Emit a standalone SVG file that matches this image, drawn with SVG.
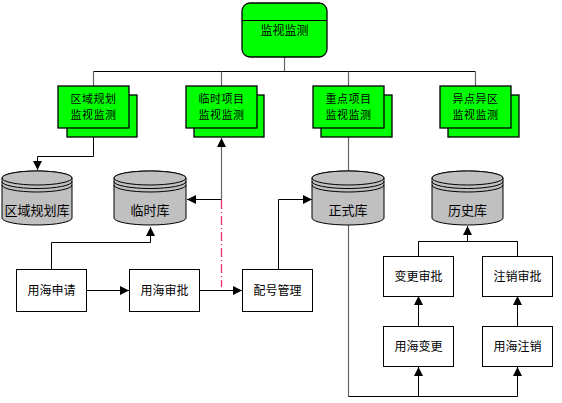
<svg xmlns="http://www.w3.org/2000/svg" width="562" height="403" viewBox="0 0 562 403">
<style>
.g{fill:#00ff00;stroke:#000;stroke-width:1.3}
.b{fill:#fff;stroke:#000;stroke-width:1}
.cy{fill:#c0c0c0;stroke:#000;stroke-width:1}
.t{font-family:"Noto Sans CJK SC",sans-serif;font-size:12px;fill:#000;text-anchor:middle}
.n{font-family:"Noto Sans CJK SC",sans-serif;font-size:11px;fill:#000;text-anchor:middle;letter-spacing:0.5px}
.ct{font-family:"Noto Sans CJK SC",sans-serif;font-size:13px;fill:#000;text-anchor:middle}
.l{fill:none;stroke:#000;stroke-width:1}
.lg{fill:none;stroke:#666;stroke-width:1.2}
</style>
<defs>
<marker id="ar" viewBox="0 0 10 10" refX="10" refY="5" markerWidth="9" markerHeight="9" markerUnits="userSpaceOnUse" orient="auto">
<path d="M0,0 L10,5 L0,10 z" fill="#000"/>
</marker>
</defs>
<rect width="562" height="403" fill="#fff"/>

<g id="connectors">
<path class="lg" d="M284.5,57 V71.5"/>
<path class="l" d="M93.5,71.5 H475.5"/>
<path class="lg" d="M93.5,71.5 V86 M221.5,71.5 V86 M348.5,71.5 V86 M475.5,71.5 V86"/>
<path class="l" d="M93.5,137 V156.5 H37.5 V170" marker-end="url(#ar)"/>
<path class="lg" d="M221.5,199.5 V138" marker-end="url(#ar)"/>
<path class="l" d="M221.5,199.5 H187" marker-end="url(#ar)"/>
<path d="M221.5,200 V287" stroke="#f0306a" stroke-width="1.3" stroke-dasharray="9,3,1,3" fill="none"/>
<path class="lg" d="M348.5,137 V171"/>
<path class="l" d="M51.5,269 V242.5 H150.5 V227" marker-end="url(#ar)"/>
<path class="l" d="M87,290.5 H129" marker-end="url(#ar)"/>
<path class="l" d="M199,290.5 H242" marker-end="url(#ar)"/>
<path class="l" d="M278.5,269 V199.5 H312" marker-end="url(#ar)"/>
<path class="lg" d="M348.5,225 V396.5"/>
<path class="l" d="M348.5,396.5 H517.5"/>
<path class="l" d="M418.5,396.5 V367" marker-end="url(#ar)"/>
<path class="l" d="M517.5,396.5 V367" marker-end="url(#ar)"/>
<path class="l" d="M418.5,326 V296" marker-end="url(#ar)"/>
<path class="l" d="M517.5,326 V296" marker-end="url(#ar)"/>
<path class="l" d="M418.5,256 V241.5 H517.5 V256"/>
<path class="l" d="M467.5,241.5 V226" marker-end="url(#ar)"/>
</g>

<g id="top">
<rect class="g" x="242" y="3" width="85" height="54" rx="8"/>
<path class="l" d="M242,20.5 H327" stroke-width="1.3"/>
<text class="t" x="284.5" y="34.5">监视监测</text>
</g>

<g id="n1">
<rect class="g" x="67" y="95" width="70" height="42"/>
<rect class="g" x="58" y="86" width="71" height="42"/>
<text class="n" x="93.5" y="103">区域规划</text>
<text class="n" x="93.5" y="119">监视监测</text>
</g>
<g id="n2">
<rect class="g" x="194" y="95" width="70" height="42"/>
<rect class="g" x="186" y="86" width="71" height="42"/>
<text class="n" x="221.5" y="103">临时项目</text>
<text class="n" x="221.5" y="119">监视监测</text>
</g>
<g id="n3">
<rect class="g" x="321" y="95" width="71" height="42"/>
<rect class="g" x="313" y="86" width="71" height="42"/>
<text class="n" x="348.5" y="103">重点项目</text>
<text class="n" x="348.5" y="119">监视监测</text>
</g>
<g id="n4">
<rect class="g" x="448" y="95" width="71" height="42"/>
<rect class="g" x="440" y="86" width="71" height="42"/>
<text class="n" x="475.5" y="103">异点异区</text>
<text class="n" x="475.5" y="119">监视监测</text>
</g>

<g id="db1">
<path class="cy" d="M2,178 V218 A35,7 0 0 0 72,218 V178 A35,7 0 0 0 2,178 z"/>
<ellipse class="cy" cx="37" cy="178" rx="35" ry="7"/>
<path class="l" d="M2,181.5 A35,7 0 0 0 72,181.5 M2,185 A35,7 0 0 0 72,185"/>
<text class="ct" x="37" y="214.5">区域规划库</text>
</g>
<g id="db2">
<path class="cy" d="M114,178 V218 A36,7 0 0 0 186,218 V178 A36,7 0 0 0 114,178 z"/>
<ellipse class="cy" cx="150" cy="178" rx="36" ry="7"/>
<path class="l" d="M114,181.5 A36,7 0 0 0 186,181.5 M114,185 A36,7 0 0 0 186,185"/>
<text class="ct" x="150" y="214.5">临时库</text>
</g>
<g id="db3">
<path class="cy" d="M312,178 V218 A36,7 0 0 0 384,218 V178 A36,7 0 0 0 312,178 z"/>
<ellipse class="cy" cx="348" cy="178" rx="36" ry="7"/>
<path class="l" d="M312,181.5 A36,7 0 0 0 384,181.5 M312,185 A36,7 0 0 0 384,185"/>
<text class="ct" x="348" y="214.5">正式库</text>
</g>
<g id="db4">
<path class="cy" d="M432,178 V218 A35.5,7 0 0 0 503,218 V178 A35.5,7 0 0 0 432,178 z"/>
<ellipse class="cy" cx="467.5" cy="178" rx="35.5" ry="7"/>
<path class="l" d="M432,181.5 A35.5,7 0 0 0 503,181.5 M432,185 A35.5,7 0 0 0 503,185"/>
<text class="ct" x="467.5" y="214.5">历史库</text>
</g>

<g id="b1"><rect class="b" x="16.5" y="269.5" width="70" height="42"/><text class="t" x="51.5" y="295">用海申请</text></g>
<g id="b2"><rect class="b" x="129.5" y="269.5" width="70" height="42"/><text class="t" x="164.5" y="295">用海审批</text></g>
<g id="b3"><rect class="b" x="242.5" y="269.5" width="70" height="42"/><text class="t" x="277.5" y="295">配号管理</text></g>
<g id="b4"><rect class="b" x="383.5" y="256.5" width="70" height="40"/><text class="t" x="418.5" y="281">变更审批</text></g>
<g id="b5"><rect class="b" x="482.5" y="256.5" width="70" height="40"/><text class="t" x="517.5" y="281">注销审批</text></g>
<g id="b6"><rect class="b" x="383.5" y="326.5" width="70" height="40"/><text class="t" x="418.5" y="351">用海变更</text></g>
<g id="b7"><rect class="b" x="482.5" y="326.5" width="70" height="40"/><text class="t" x="517.5" y="351">用海注销</text></g>
</svg>
